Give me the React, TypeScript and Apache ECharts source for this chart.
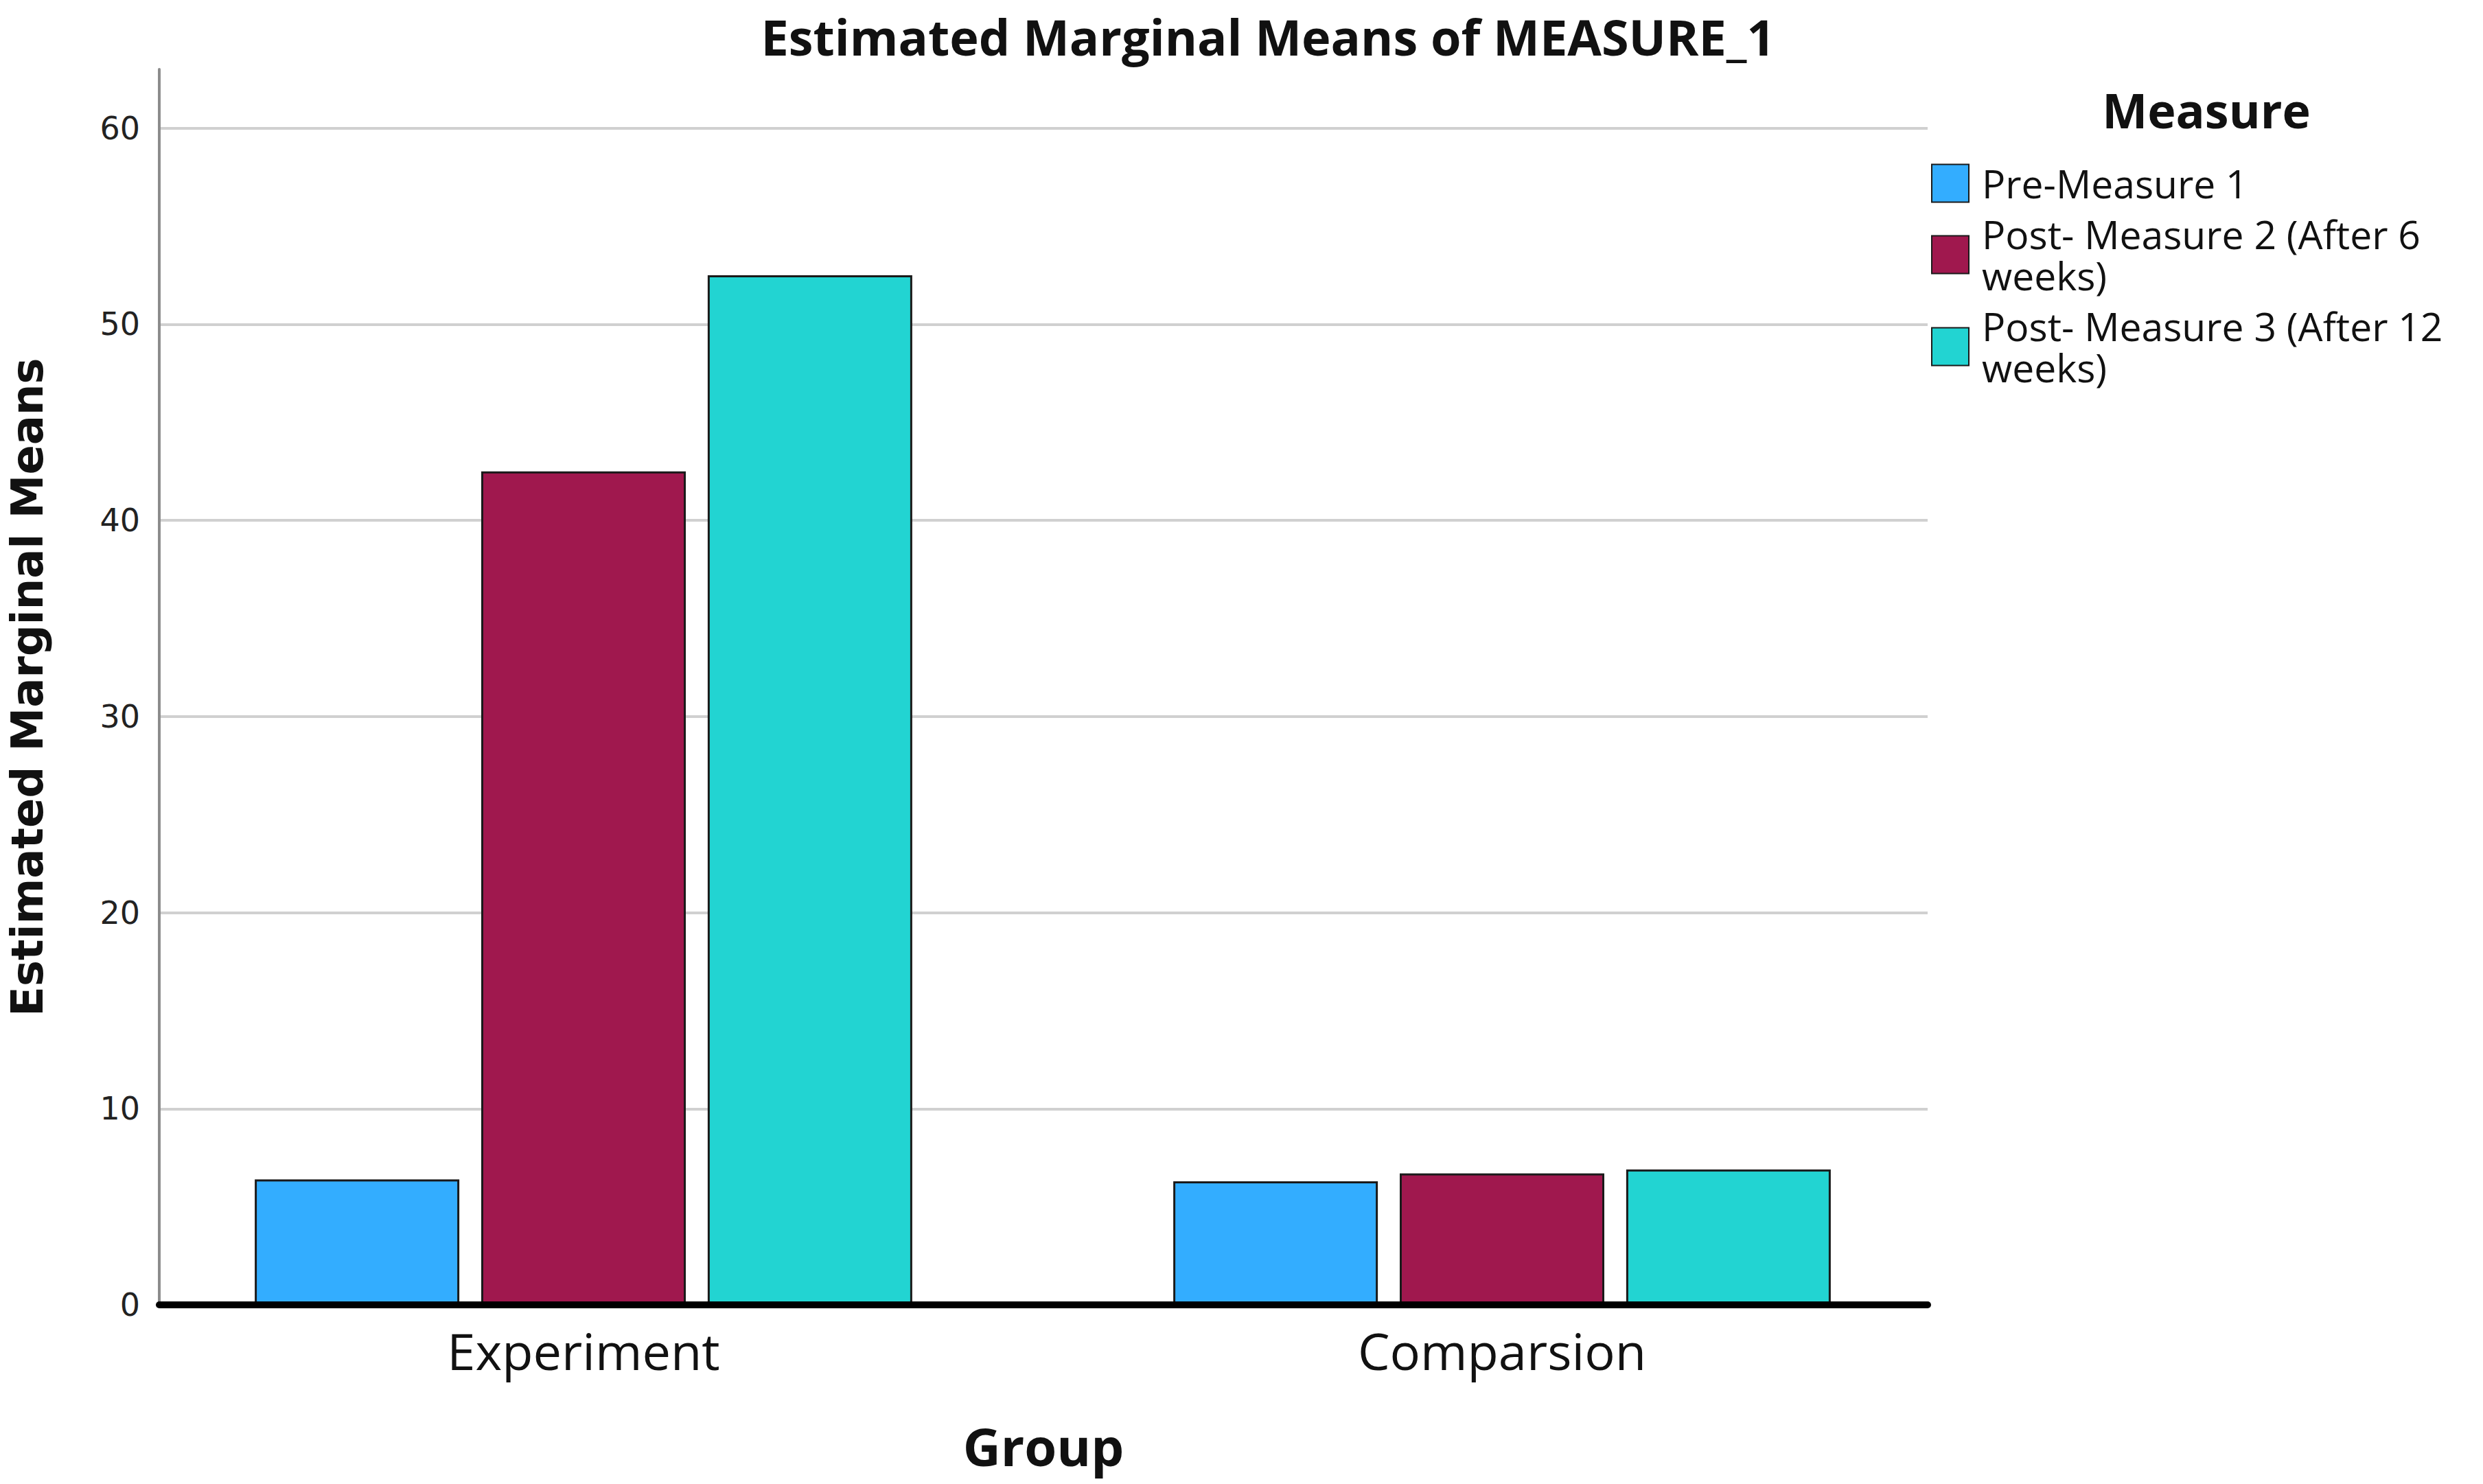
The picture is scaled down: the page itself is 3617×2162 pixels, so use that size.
import React, { useEffect, useRef } from "react";
import * as echarts from "echarts";

const categories = ["Experiment", "Comparsion"];
const seriesNames = [
  "Pre-Measure 1",
  "Post- Measure 2 (After 6 weeks)",
  "Post- Measure 3 (After 12 weeks)",
];
const preMeasure = [6.4, 6.3];
const post6Weeks = [42.5, 6.7];
const post12Weeks = [52.5, 6.9];
const seriesColors = ["#33adff", "#a0184e", "#22d4d2"];
const yMin = 0;
const yMax = 63;
const yInterval = 10;

export default function App() {
  const ref = useRef<HTMLDivElement>(null);
  useEffect(() => {
    document.body.style.margin = "0";
    const chart = echarts.init(ref.current!, null, { renderer: "svg" });
    const values = [preMeasure, post6Weeks, post12Weeks];
    const font = "'Open Sans', 'Noto Sans', sans-serif";
    const option: any = {
      animation: false,
      backgroundColor: "#ffffff",
      graphic: [
        {
          type: "text",
          x: 1847,
          y: 53,
          style: {
            text: "Estimated Marginal Means of MEASURE_1",
            fontFamily: font,
            fontWeight: "bold",
            fontSize: 72,
            fill: "#111",
            align: "center",
            verticalAlign: "middle",
          },
        },
        {
          type: "text",
          x: 3214,
          y: 160,
          style: {
            text: "Measure",
            fontFamily: font,
            fontWeight: "bold",
            fontSize: 70,
            fill: "#111",
            align: "center",
            verticalAlign: "middle",
          },
        },
      ],
      legend: {
        orient: "vertical",
        left: 2808,
        top: 232,
        itemWidth: 54,
        itemHeight: 55,
        itemGap: 14,
        icon: "rect",
        data: seriesNames,
        formatter: (name: string) => name.replace(" weeks)", "\nweeks)"),
        textStyle: {
          fontFamily: font,
          fontSize: 57,
          lineHeight: 60,
          color: "#111",
          padding: [0, 0, 0, 14],
        },
      },
      grid: [
        { left: 181, right: 760, top: 101, bottom: 261 },
        { left: 228, right: 809, top: 101, bottom: 261 },
      ],
      xAxis: [
        {
          type: "category",
          gridIndex: 0,
          data: categories,
          axisLine: { show: false },
          axisTick: { show: false },
          axisLabel: {
            fontFamily: font,
            fontSize: 74,
            color: "#111",
            margin: 29,
          },
        },
        {
          type: "value",
          gridIndex: 1,
          min: 0,
          max: 1,
          z: 10,
          axisLine: { show: true, lineStyle: { color: "#000", width: 10 } },
          axisTick: { show: false },
          axisLabel: { show: false },
          splitLine: { show: false },
          name: "Group",
          nameLocation: "middle",
          nameGap: 167,
          nameTextStyle: {
            fontFamily: font,
            fontWeight: "bold",
            fontSize: 76,
            color: "#111",
          },
        },
      ],
      yAxis: [
        {
          type: "value",
          gridIndex: 0,
          min: yMin,
          max: yMax,
          show: false,
          splitLine: { show: false },
        },
        {
          type: "value",
          gridIndex: 1,
          min: yMin,
          max: yMax,
          interval: yInterval,
          axisLine: { show: true, lineStyle: { color: "#8c8c8c", width: 4 } },
          axisTick: { show: false },
          axisLabel: {
            fontFamily: "'DejaVu Sans', sans-serif",
            fontSize: 46,
            color: "#222",
            margin: 28,
            showMaxLabel: false,
          },
          splitLine: {
            show: true,
            showMaxLine: false,
            lineStyle: { color: "#d0d0d0", width: 4 },
          },
          name: "Estimated Marginal Means",
          nameLocation: "middle",
          nameGap: 160,
          nameTextStyle: {
            fontFamily: "'DejaVu Sans', sans-serif",
            fontWeight: "bold",
            fontSize: 64,
            color: "#111",
          },
        },
      ],
      series: seriesNames.map((name, i) => ({
        type: "bar",
        name,
        xAxisIndex: 0,
        yAxisIndex: 0,
        data: values[i],
        barWidth: 298,
        barGap: "10.7%",
        itemStyle: {
          color: seriesColors[i],
          borderColor: "#1a1a1a",
          borderWidth: 3,
        },
      })),
    };
    chart.setOption(option);
    return () => chart.dispose();
  }, []);
  return <div ref={ref} style={{ width: 3617, height: 2162 }} />;
}
